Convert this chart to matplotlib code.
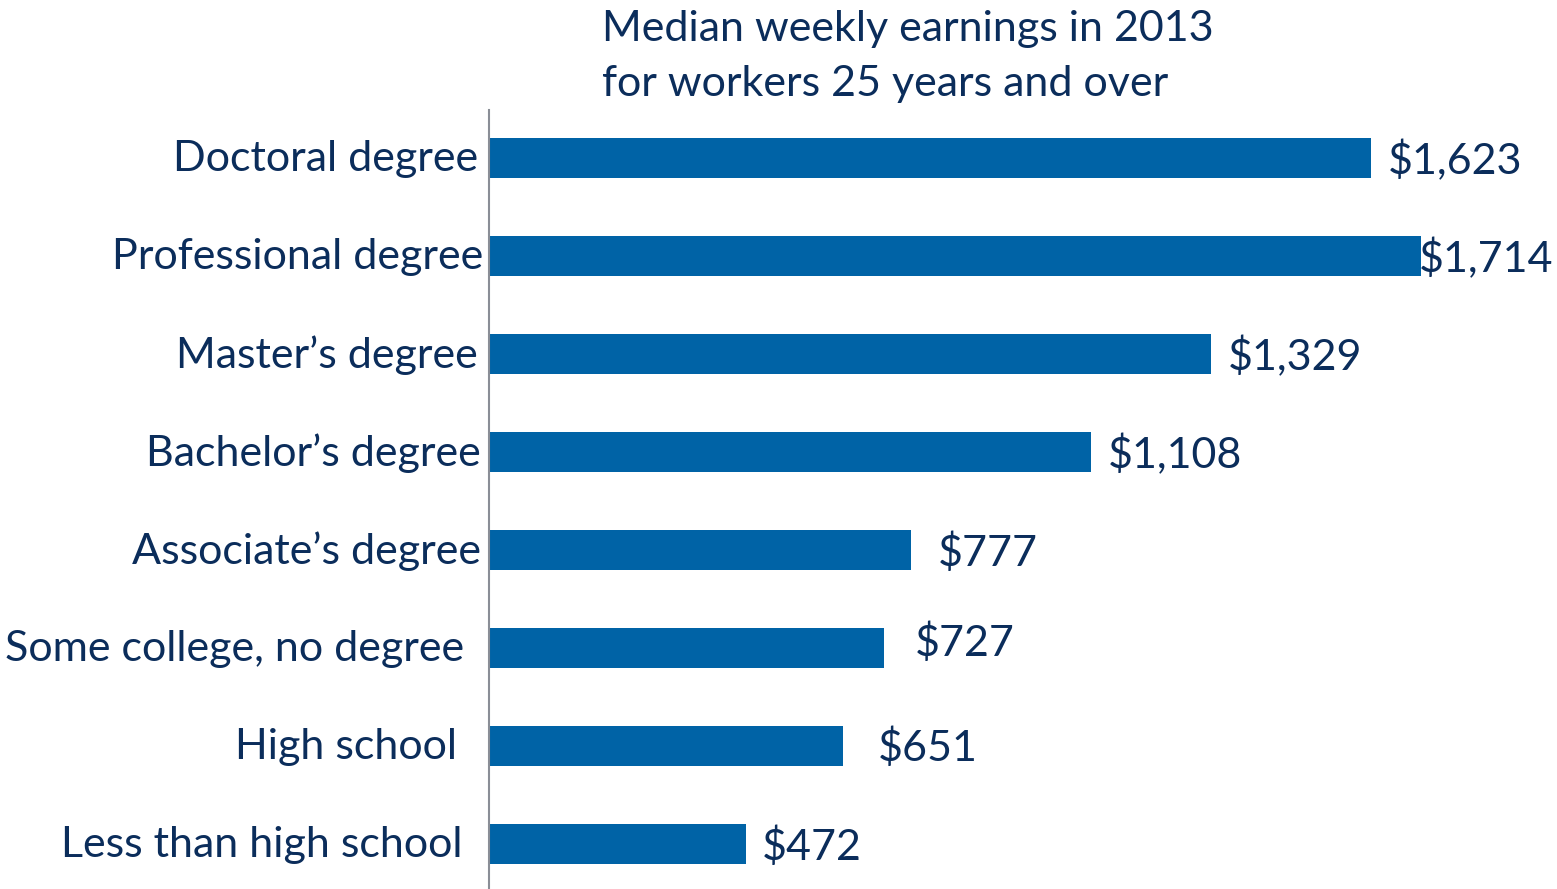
import matplotlib
matplotlib.use("Agg")
import matplotlib.pyplot as plt

# categories, bottom to top
categories = ["Less than high school", "High school", "Some college, no degree",
              "Associate\u2019s degree", "Bachelor\u2019s degree", "Master\u2019s degree",
              "Professional degree", "Doctoral degree"]
earnings = [472, 651, 727, 777, 1108, 1329, 1714, 1623]
value_labels = ["$472", "$651", "$727", "$777", "$1,108", "$1,329", "$1,714", "$1,623"]

title = "Median weekly earnings in 2013\nfor workers 25 years and over"

bar_color = "#0063a6"
text_color = "#0b2d5b"
plt.rcParams["font.family"] = ["Lato", "DejaVu Sans"]

fig = plt.figure(figsize=(15.57, 8.89), dpi=100)
ax = fig.add_axes([489 / 1557, 0.0, 1 - 489 / 1557, 779 / 889])

y = range(len(categories))
ax.barh(y, earnings, height=0.4, color=bar_color)

# label nudges (points) to follow the original's uneven placement
val_dx = [12, 25, 22, 19, 12, 12, -1, 12]
val_dy = [-2, -1, 4, -2, -2, -2, -2, -2]
cat_dx = [19, 23, 18, 6, 6, 8, 4, 8]
for i, (v, lab) in enumerate(zip(earnings, value_labels)):
    ax.annotate(lab, (v, i), xytext=(val_dx[i], val_dy[i]), textcoords="offset points",
                va="center", ha="right" if False else "left", fontsize=31, color=text_color)
for i, cat in enumerate(categories):
    ax.annotate(cat, (0, i), xytext=(-cat_dx[i], -1), textcoords="offset points",
                va="center", ha="right", fontsize=31, color=text_color,
                annotation_clip=False)

ax.set_xlim(0, 1965)
ax.set_ylim(-0.46, 7.49)
ax.set_yticks([])
ax.set_xticks([])
for s in ["top", "right", "bottom"]:
    ax.spines[s].set_visible(False)
ax.spines["left"].set_color("#8a8e96")
ax.spines["left"].set_linewidth(1.5)

fig.text(602 / 1557, 1 - 10 / 889, title, ha="left", va="top", fontsize=31,
         color=text_color, linespacing=1.55)

fig.savefig("out.png", dpi=100)
